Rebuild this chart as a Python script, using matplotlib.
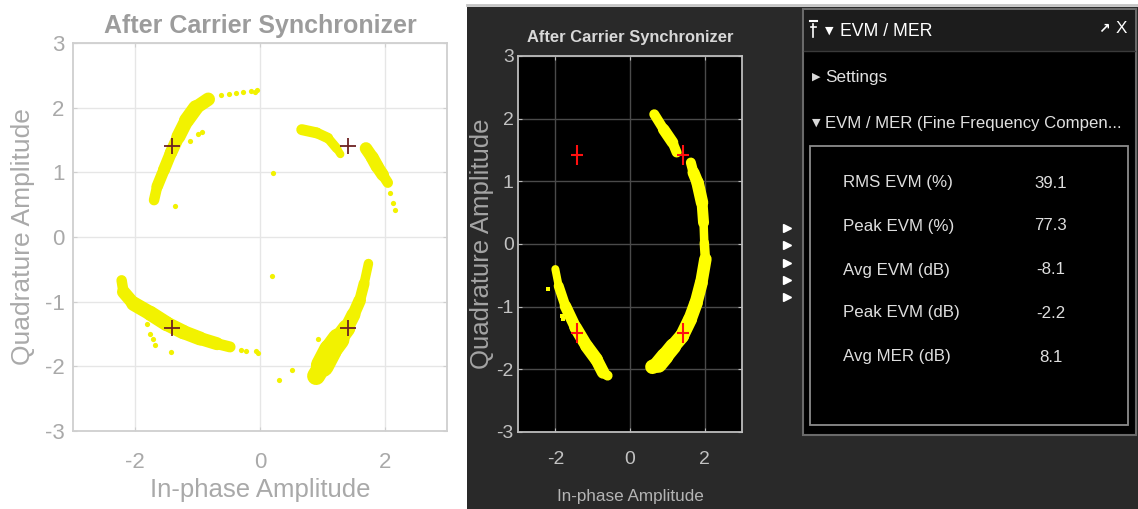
import matplotlib
matplotlib.use("Agg")
import numpy as np
import matplotlib.pyplot as plt
from matplotlib import font_manager
from matplotlib.collections import LineCollection
from matplotlib.patches import Rectangle
from matplotlib.path import Path

plt.rcParams["axes.unicode_minus"] = False

# ---------------- data ----------------
title_text = "After Carrier Synchronizer"
xlabel_text = "In-phase Amplitude"
ylabel_text = "Quadrature Amplitude"
x_ticks = [-2, 0, 2]
y_ticks = [-3, -2, -1, 0, 1, 2, 3]

# ideal QPSK reference constellation
ref_i = [-1.414, 1.414, -1.414, 1.414]
ref_q = [1.414, 1.414, -1.414, -1.414]

# received symbols, light scope: dense arcs (centre line) and isolated symbols
lt_ul_i = [-1.70, -1.65, -1.54, -1.43, -1.31, -1.18, -1.03, -0.83]
lt_ul_q = [0.57, 0.78, 1.04, 1.30, 1.55, 1.80, 2.00, 2.13]
lt_ur1_i = [0.67, 0.91, 1.09, 1.23, 1.29]
lt_ur1_q = [1.66, 1.61, 1.53, 1.37, 1.28]
lt_ur2_i = [1.70, 1.80, 1.88, 1.97, 2.05]
lt_ur2_q = [1.37, 1.23, 1.09, 0.96, 0.84]
lt_ll_i = [-2.22, -2.19, -2.03, -1.76, -1.50, -1.23, -0.96, -0.69, -0.48]
lt_ll_q = [-0.67, -0.85, -1.03, -1.18, -1.34, -1.47, -1.57, -1.65, -1.70]
lt_lr_i = [1.74, 1.67, 1.60, 1.50, 1.39, 1.26, 1.13, 1.00, 0.90]
lt_lr_q = [-0.41, -0.72, -0.98, -1.20, -1.41, -1.58, -1.75, -1.99, -2.15]
lt_dots_i = [-0.62, -0.50, -0.38, -0.28, -0.15, -0.05, -0.08, -0.99, -1.12, -0.93,
             -1.36, 2.08, 2.14, 2.16, -0.30, -0.22, -0.07, -0.03, -1.82, -1.76,
             -1.72, -1.68, -1.42, 0.93, 0.51, 0.31, 0.21, 0.20]
lt_dots_q = [2.19, 2.21, 2.23, 2.24, 2.26, 2.27, 2.24, 1.60, 1.48, 1.63,
             0.48, 0.68, 0.52, 0.42, -1.74, -1.76, -1.77, -1.80, -1.34, -1.50,
             -1.58, -1.67, -1.78, -1.57, -2.06, -2.21, 0.99, -0.61]

# received symbols, dark scope
dk_r1_i = [0.65, 0.90, 1.14, 1.25]
dk_r1_q = [2.07, 1.83, 1.62, 1.46]
dk_r2_i = [1.63, 1.70, 1.81, 1.93, 1.97, 1.99, 2.02, 1.91, 1.77, 1.61, 1.39, 1.16, 0.94, 0.76, 0.60]
dk_r2_q = [1.30, 1.14, 0.98, 0.66, 0.34, 0.02, -0.24, -0.62, -0.94, -1.20, -1.47, -1.63, -1.79, -1.92, -1.96]
dk_l_i = [-2.00, -1.91, -1.73, -1.46, -1.16, -0.90, -0.72, -0.60]
dk_l_q = [-0.40, -0.67, -0.99, -1.33, -1.63, -1.84, -2.05, -2.10]
dk_dots_i = [-2.20, -1.79, -1.83]
dk_dots_q = [-0.72, -1.20, -1.15]

# EVM / MER measurement panel
panel_title = "EVM / MER"
section_settings = "Settings"
section_results = "EVM / MER (Fine Frequency Compen..."
metric_names = ["RMS EVM (%)", "Peak EVM (%)", "Avg EVM (dB)", "Peak EVM (dB)", "Avg MER (dB)"]
metric_values = [39.1, 77.3, -8.1, -2.2, 8.1]

# ---------------- styling ----------------
W, H = 1138, 509
names = {f.name for f in font_manager.fontManager.ttflist}
REG = "Liberation Sans" if "Liberation Sans" in names else "DejaVu Sans"
if "Liberation Sans Narrow" in names:
    NARROW, NK = "Liberation Sans Narrow", 1.0
else:
    NARROW, NK = REG, 0.82

fig = plt.figure(figsize=(W / 100, H / 100), dpi=100, facecolor="white")

# pixel-space canvas for panel backgrounds and the measurement panel
bg = fig.add_axes([0, 0, 1, 1], zorder=0)
bg.set_xlim(0, W)
bg.set_ylim(H, 0)
bg.axis("off")
bg.add_patch(Rectangle((467, 7), W - 467, H - 7, fc="#292929", ec="none"))
bg.plot([467, W], [5, 5], color="#c4c4c4", lw=2)


def px_axes(x0, y0, x1, y1, **kw):
    return fig.add_axes([x0 / W, 1 - y1 / H, (x1 - x0) / W, (y1 - y0) / H], **kw)


def band(ax, xs, ys, widths_px, color, z=3):
    pts = np.column_stack([xs, ys])
    segs = np.stack([pts[:-1], pts[1:]], axis=1)
    w = np.asarray(widths_px, float)
    lw = (w[:-1] + w[1:]) / 2 * 0.72
    lc = LineCollection(segs, linewidths=lw, colors=color,
                        capstyle="round", joinstyle="round", zorder=z)
    ax.add_collection(lc)


def style_axes(ax, face, frame, grid, tick_c, font, fsize, xpad, ypad):
    ax.set_facecolor(face)
    ax.set_xlim(-3, 3)
    ax.set_ylim(-3, 3)
    ax.set_xticks(x_ticks)
    ax.set_yticks(y_ticks)
    ax.grid(True, color=grid, lw=1)
    ax.set_axisbelow(True)
    for s in ax.spines.values():
        s.set_color(frame)
        s.set_linewidth(1.3)
    ax.tick_params(direction="in", length=3, color=frame, labelcolor=tick_c,
                   top=True, right=True)
    ax.tick_params(axis="x", pad=xpad)
    ax.tick_params(axis="y", pad=ypad)
    for t in ax.get_xticklabels() + ax.get_yticklabels():
        t.set_fontfamily(font)
        t.set_fontsize(fsize)


# ---------------- light scope ----------------
ax1 = px_axes(73, 43, 447, 431, zorder=2)
style_axes(ax1, "white", "#cfcfcf", "#e6e6e6", "#a9a9a9", REG, 16, 15, 6)
yel1 = "#f2f200"
band(ax1, lt_ul_i, lt_ul_q, [10, 11, 12, 12, 13, 15, 15, 12], yel1)
band(ax1, lt_ur1_i, lt_ur1_q, [11, 11, 10, 9, 7], yel1)
band(ax1, lt_ur2_i, lt_ur2_q, [12, 13, 13, 12, 9], yel1)
band(ax1, lt_ll_i, lt_ll_q, [9, 12, 14, 15, 15, 14, 14, 12, 10], yel1)
band(ax1, lt_lr_i, lt_lr_q, [9, 10, 12, 13, 15, 20, 24, 22, 14], yel1)
ax1.scatter(lt_dots_i, lt_dots_q, s=14, color=yel1, lw=0, zorder=3)
ax1.plot(ref_i, ref_q, ls="none", marker="+", ms=12, mew=1.3,
         color="#6d2222", zorder=4)
ax1.set_title(title_text, family=REG, fontsize=18, fontweight="bold",
              color="#9c9c9c", pad=7)
ax1.set_xlabel(xlabel_text, family=REG, fontsize=18.5, color="#a9a9a9")
ax1.set_ylabel(ylabel_text, family=REG, fontsize=19, color="#a9a9a9")
ax1.xaxis.set_label_coords(0.5, (431 - 490) / 388)
ax1.xaxis.label.set_va("center")
ax1.yaxis.set_label_coords((23 - 73) / 374, 0.5)
ax1.yaxis.label.set_va("center")

# ---------------- dark scope ----------------
ax2 = px_axes(518, 56, 742, 432, zorder=2)
style_axes(ax2, "black", "#bdbdbd", "#4a4a4a", "#c2c2c2", NARROW, 17 * NK, 14, 3)
yel2 = "#ffff00"
band(ax2, dk_r1_i, dk_r1_q, [8, 12, 11, 9], yel2)
band(ax2, dk_r2_i, dk_r2_q, [9, 11, 13, 12, 10, 7, 12, 13, 13, 14, 14, 15, 17, 17, 12], yel2)
band(ax2, dk_l_i, dk_l_q, [7, 9, 11, 12, 13, 13, 12, 8], yel2)
ax2.scatter(dk_dots_i, dk_dots_q, s=7, color=yel2, lw=0, marker="s", zorder=3)
tall_plus = Path([[-0.6, 0], [0.6, 0], [0, -1], [0, 1]],
                 [Path.MOVETO, Path.LINETO, Path.MOVETO, Path.LINETO])
ax2.plot(ref_i, ref_q, ls="none", marker=tall_plus, ms=14, mew=1.5,
         color="#ff1010", zorder=4)
ax2.set_title(title_text, family=NARROW, fontsize=14.5 * NK, fontweight="bold",
              color="#d8d8d8", pad=10)
ax2.set_xlabel(xlabel_text, family=NARROW, fontsize=15 * NK, color="#b4b4b4")
ax2.set_ylabel(ylabel_text, family=REG, fontsize=18.5, color="#a4a4a4")
ax2.xaxis.set_label_coords(0.5, (432 - 497) / 376)
ax2.xaxis.label.set_va("center")
ax2.yaxis.set_label_coords((482 - 518) / 224, 0.5)
ax2.yaxis.label.set_va("center")

# collapsed side-panel arrows
bg.plot([787] * 5, [228, 245, 263, 280, 297], ls="none", marker=">", ms=6,
        color="white", mec="white")

# ---------------- EVM / MER panel ----------------
bg.add_patch(Rectangle((803, 9), 333, 426, fc="black", ec="#6a6a6a", lw=1.5))
bg.add_patch(Rectangle((804, 10), 331, 41, fc="#1c1c1c", ec="none"))
bg.plot([804, 1135], [51, 51], color="#3a3a3a", lw=1)
bg.add_patch(Rectangle((810, 146), 318, 279, fc="black", ec="#8c8c8c", lw=1.3))

# pin and collapse glyphs in the header
bg.plot([810, 817], [21, 21], color="white", lw=1.5)
bg.plot([813.5, 813.5], [24, 37], color="white", lw=1.2)
bg.plot([811, 816], [27, 27], color="white", lw=1.2)
bg.text(829, 31, "\u25BC", family="DejaVu Sans", fontsize=8, color="white",
        ha="center", va="center")
bg.text(840, 31, panel_title, family=NARROW, fontsize=15.5 * NK, color="white",
        ha="left", va="center")
bg.text(1104, 29, "\u2197", family="DejaVu Sans", fontsize=10, color="white",
        ha="center", va="center", fontweight="bold")
bg.text(1121, 28, "X", family=NARROW, fontsize=15 * NK, color="white",
        ha="center", va="center")

bg.text(816, 77, "\u25B6", family="DejaVu Sans", fontsize=8, color="#d8d8d8",
        ha="center", va="center")
bg.text(825, 77, section_settings, family=NARROW, fontsize=15 * NK, color="#e0e0e0",
        ha="left", va="center")
bg.text(816, 123, "\u25BC", family="DejaVu Sans", fontsize=8, color="#d8d8d8",
        ha="center", va="center")
bg.text(825, 123, section_results, family=NARROW, fontsize=14.7 * NK,
        color="#e0e0e0", ha="left", va="center")

row_y = [183, 226, 270, 313, 357]
for name, val, y in zip(metric_names, metric_values, row_y):
    bg.text(843, y, name, family=NARROW, fontsize=14.8 * NK, color="#dedede",
            ha="left", va="center")
    bg.text(1051, y, f"{val:.1f}", family=NARROW, fontsize=14.8 * NK,
            color="#dedede", ha="center", va="center")

fig.savefig("out.png", dpi=100, facecolor=fig.get_facecolor())
